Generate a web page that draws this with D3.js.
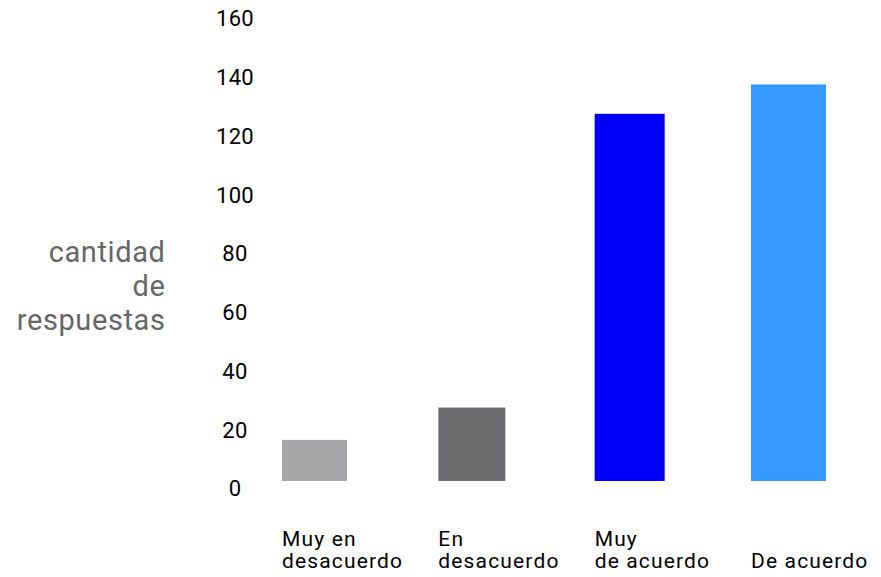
<!DOCTYPE html>
<html>
<head>
<meta charset="utf-8">
<script src="https://cdn.jsdelivr.net/npm/d3@7"></script>
<style>
  html, body { margin: 0; padding: 0; background: #fff; }
  svg { display: block; font-family: Roboto, "Liberation Sans", sans-serif; }
</style>
</head>
<body>
<svg id="chart" width="881" height="577"></svg>
<script>
// ---- data ----
const categories = ["Muy en desacuerdo", "En desacuerdo", "Muy de acuerdo", "De acuerdo"];
const labelLines = [["Muy en", "desacuerdo"], ["En", "desacuerdo"], ["Muy", "de acuerdo"], ["De acuerdo"]];
const values = [14, 25, 125, 135];
const tickValues = [0, 20, 40, 60, 80, 100, 120, 140, 160];
const yTitleLines = ["cantidad", "de", "respuestas"];

// ---- style ----
const colors = ["#a7a7aa", "#6d6d6f", "#0000ff", "#3599ff"];
const barWidths = [65, 67, 70, 75];

const svg = d3.select("#chart");

const y = d3.scaleLinear().domain([0, 160]).range([481, 11]);
const x = d3.scaleBand().domain(categories).range([282, 282 + 4 * 156.33]).padding(0);

// y axis
const yAxis = d3.axisLeft(y).tickValues(tickValues).tickSize(0).tickPadding(0);
const gy = svg.append("g").attr("transform", "translate(235,0)").call(yAxis);
gy.select(".domain").remove();
gy.selectAll("text")
  .attr("x", 0)
  .attr("dy", null)
  .attr("y", 14.8)
  .attr("text-anchor", "middle")
  .attr("fill", "#000")
  .style("font-size", "22px")
  .style("letter-spacing", "0.3px")
  .style("font-family", "Roboto, sans-serif");

// bars
svg.append("g").selectAll("rect")
  .data(categories)
  .join("rect")
  .attr("x", d => x(d))
  .attr("y", (d, i) => y(values[i]))
  .attr("width", (d, i) => barWidths[i])
  .attr("height", (d, i) => y(0) - y(values[i]))
  .attr("fill", (d, i) => colors[i]);

// category labels
const lab = svg.append("g").selectAll("text")
  .data(categories)
  .join("text")
  .attr("x", d => x(d))
  .attr("y", 568)
  .attr("fill", "#000")
  .style("font-size", "21px")
  .style("letter-spacing", "1.15px");
lab.each(function(d, i) {
  const lines = labelLines[i];
  const t = d3.select(this);
  lines.forEach((ln, j) => {
    t.append("tspan")
      .attr("x", x(d))
      .attr("y", 568 - (lines.length - 1 - j) * 22)
      .text(ln);
  });
});

// y title
const yt = svg.append("text")
  .attr("text-anchor", "end")
  .attr("fill", "#666666")
  .style("font-size", "29px")
  .style("letter-spacing", "0.6px");
yTitleLines.forEach((ln, j) => {
  yt.append("tspan").attr("x", 165.5).attr("y", 262 + j * 34).text(ln);
});
</script>
</body>
</html>
